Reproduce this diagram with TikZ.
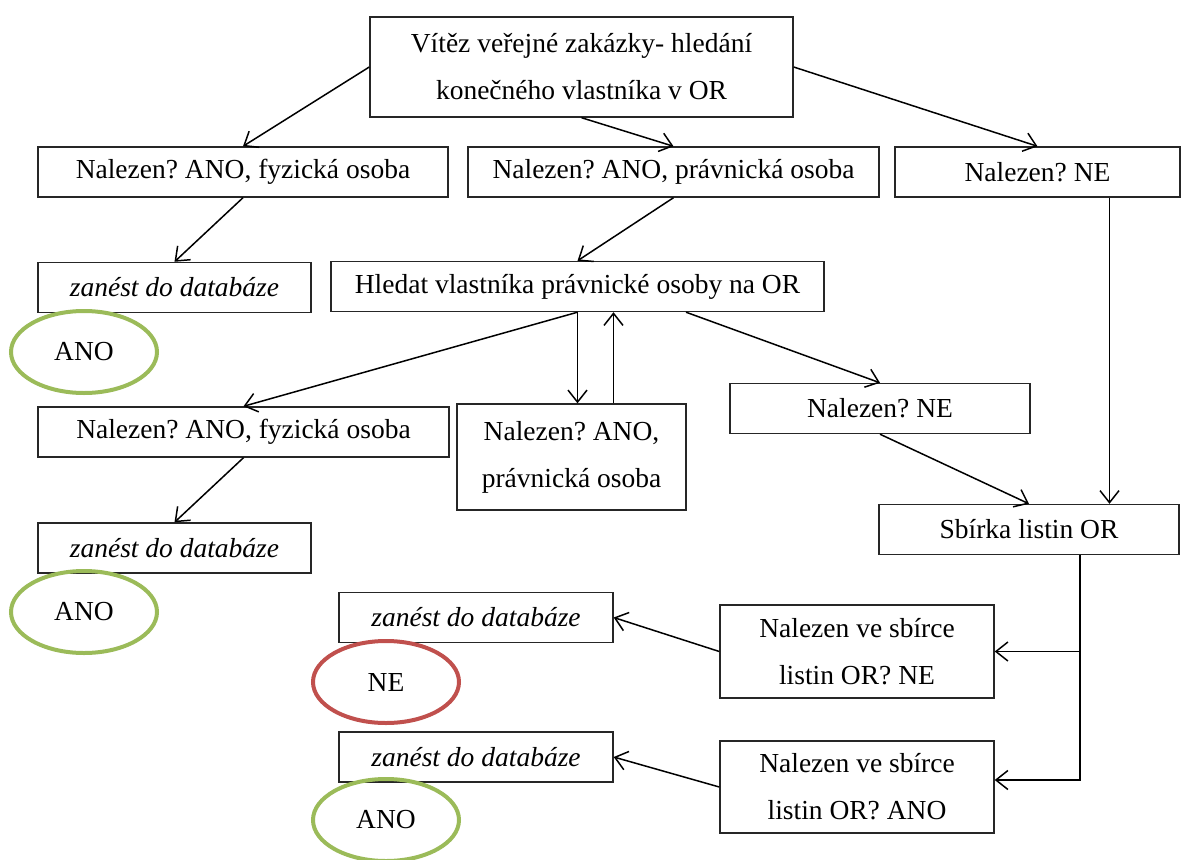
\documentclass[tikz,border=0pt]{standalone}
\usepackage{fontspec}
\setmainfont{Liberation Serif}
\usetikzlibrary{positioning,shapes,arrows.meta}
\definecolor{okgreen}{HTML}{9BBB59}
\definecolor{nored}{HTML}{C0504D}
\frenchspacing

\begin{document}
\begin{tikzpicture}[x=1pt, y=-1pt]
\tikzset{
    block/.style={rectangle, draw=black!85, line width=1.4pt, minimum height=50pt, inner sep=2pt, align=center, font=\fontsize{27.5}{47}\selectfont},
    entry/.style={block, minimum width=274pt, font=\fontsize{27.5}{47}\selectfont\itshape},
    arrow/.style={-{Straight Barb[length=12pt,width=19pt]}, line width=1.5pt},
    result/.style={ellipse, line width=4pt, minimum width=146pt, minimum height=82pt, font=\fontsize{27.5}{32}\selectfont},
    anoring/.style={result, draw=okgreen},
    nering/.style={result, draw=nored}
}
\useasboundingbox (0,0) rectangle (1185,859);
\node[block, minimum width=423pt, minimum height=100pt] (winner) at (581.5,67) {Vítěz veřejné zakázky- hledání\\konečného vlastníka v OR};
\node[block, minimum width=410pt] (fyz) at (243,172) {Nalezen? ANO, fyzická osoba};
\node[block, minimum width=411pt] (prav) at (673.5,172) {Nalezen? ANO, právnická osoba};
\node[block, minimum width=285pt] (nenal) at (1037.5,172) {Nalezen? NE};
\node[entry, minimum width=273pt] (zapis1) at (174.5,287.5) {zanést do databáze};
\node[block, minimum width=493pt] (hledat) at (577.5,286.5) {Hledat vlastníka právnické osoby na OR};
\node[anoring] (ano1) at (84,352) {ANO};
\node[block, minimum width=411pt] (fyz2) at (243.5,432) {Nalezen? ANO, fyzická osoba};
\node[block, minimum width=229pt, minimum height=106pt] (prav2) at (571.5,457) {Nalezen? ANO,\\právnická osoba};
\node[block, minimum width=300pt] (nenal2) at (880,408.5) {Nalezen? NE};
\node[block, minimum width=300pt] (sbirka) at (1029,529.5) {Sbírka listin OR};
\node[entry, minimum width=273pt] (zapis2) at (174.5,548) {zanést do databáze};
\node[anoring] (ano2) at (84,612) {ANO};
\node[entry] (zapis3) at (476,617.5) {zanést do databáze};
\node[nering] (ne) at (386,682) {NE};
\node[entry] (zapis4) at (476,757) {zanést do databáze};
\node[anoring] (ano3) at (386,820) {ANO};
\node[block, minimum width=274pt, minimum height=93pt] (sbirkaNe) at (857,651.5) {Nalezen ve sbírce\\listin OR? NE};
\node[block, minimum width=274pt, minimum height=92pt] (sbirkaAno) at (857,787) {Nalezen ve sbírce\\listin OR? ANO};
\coordinate (vetev) at ([xshift=51pt]sbirka.south);
\coordinate (sbirkaAnoIn) at ([yshift=7pt]sbirkaAno.east);
\draw[arrow] (winner.west) -- (fyz.north);
\draw[arrow] (winner.south) -- (prav.north);
\draw[arrow] (winner.east) -- (nenal.north);
\draw[arrow] (fyz.south) -- (zapis1.north);
\draw[arrow] (prav.south) -- (hledat.north);
\draw[arrow] ([xshift=72pt]nenal.south) -- ([xshift=72pt]nenal.south |- sbirka.north);
\draw[arrow] (hledat.south) -- (fyz2.north);
\draw[arrow] (hledat.south) -- (hledat.south |- prav2.north);
\draw[arrow] ([xshift=42pt]prav2.north) -- ([xshift=42pt]prav2.north |- hledat.south);
\draw[arrow] ([xshift=108.5pt]hledat.south) -- (nenal2.north);
\draw[arrow] (nenal2.south) -- (sbirka.north);
\draw[arrow] (fyz2.south) -- (zapis2.north);
\draw[arrow] (vetev) |- (sbirkaAnoIn);
\draw[arrow] (vetev |- sbirkaNe.east) -- (sbirkaNe.east);
\draw[arrow] (sbirkaNe.west) -- (zapis3.east);
\draw[arrow] (sbirkaAno.west) -- (zapis4.east);
\end{tikzpicture}
\end{document}
